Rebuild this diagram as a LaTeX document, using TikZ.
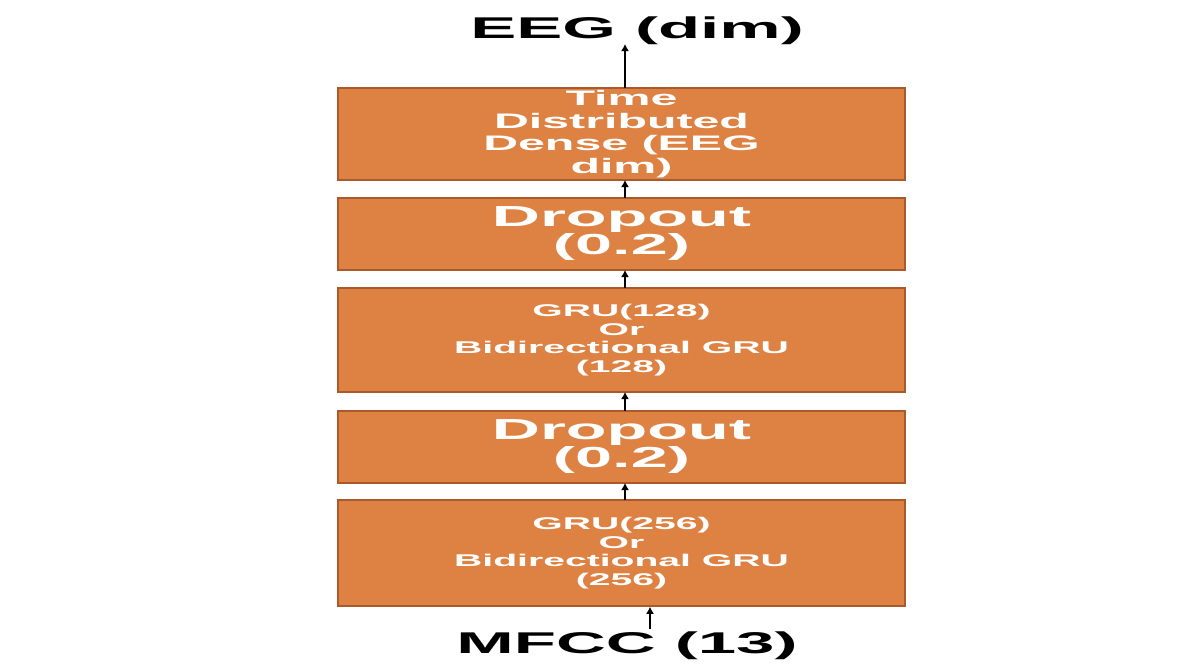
\documentclass[tikz,border=0pt]{standalone}
\usepackage{fontspec}
\setmainfont{Liberation Sans}
\usepackage{graphicx}
\newcommand{\sx}[1]{\scalebox{2.3}[1]{\bfseries #1}}
\definecolor{boxfill}{HTML}{DE8244}
\definecolor{boxedge}{HTML}{A9592A}
\begin{document}
\begin{tikzpicture}[x=1pt,y=-1pt,
  layer/.style={draw=boxedge,line width=1.5pt,fill=boxfill,text=white,minimum width=567pt,align=center,inner sep=0pt},
  conn/.style={-{Latex[length=7pt,width=8pt]},line width=2pt}]
\useasboundingbox (0,0) rectangle (1196,667);
\usetikzlibrary{arrows.meta}
\node[layer,minimum height=92pt,font=\fontsize{21}{22.5}\selectfont] (d1) at (621.5,134) {\sx{Time}\\\sx{Distributed}\\\sx{Dense (EEG}\\\sx{dim)}};
\node[layer,minimum height=72pt,font=\fontsize{29}{26}\selectfont] (dr2) at (621.5,234) {\sx{Dropout}\\\sx{(0.2)}};
\node[layer,minimum height=104pt,font=\fontsize{17}{18.5}\selectfont] (g2) at (621.5,340) {\sx{GRU(128)}\\\sx{Or}\\\sx{Bidirectional GRU}\\\sx{(128)}};
\node[layer,minimum height=72pt,font=\fontsize{29}{26}\selectfont] (dr1) at (621.5,447) {\sx{Dropout}\\\sx{(0.2)}};
\node[layer,minimum height=106pt,font=\fontsize{17}{18.5}\selectfont] (g1) at (621.5,553) {\sx{GRU(256)}\\\sx{Or}\\\sx{Bidirectional GRU}\\\sx{(256)}};
\node[font=\fontsize{30}{30}\selectfont] (out) at (637,31) {\sx{EEG (dim)}};
\node[font=\fontsize{30}{30}\selectfont] (in) at (627,646) {\sx{MFCC (13)}};
\coordinate (tin) at (650,629);
\coordinate (tout) at (625,44);
\draw[conn] (tin) -- (tin|-g1.south);
\draw[conn] (625,500) -- (625,483);
\draw[conn] (625,411) -- (625,392);
\draw[conn] (625,288) -- (625,270);
\draw[conn] (625,198) -- (625,180);
\draw[conn] (625,88) -- (tout);
\end{tikzpicture}
\end{document}
